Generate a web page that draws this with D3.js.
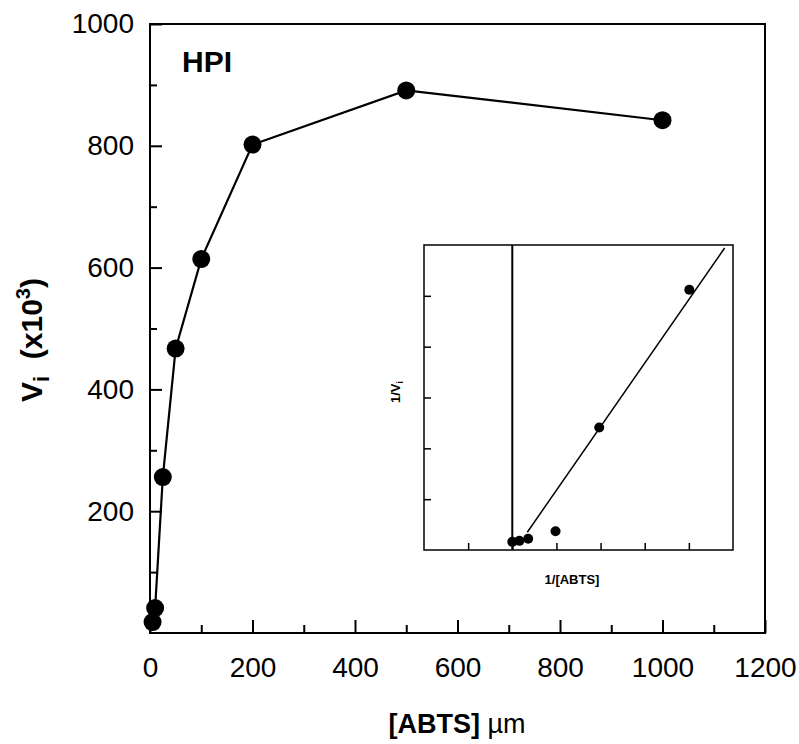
<!DOCTYPE html>
<html>
<head>
<meta charset="utf-8">
<script src="https://cdn.jsdelivr.net/npm/d3@7"></script>
<style>
  body { margin: 0; background: #fff; }
  svg { display: block; font-family: "Liberation Sans", Arial, Helvetica, sans-serif; }
</style>
</head>
<body>
<div id="chart"></div>
<script>
// main plot: rate vs [ABTS]
const abts = [5, 10, 25, 50, 100, 200, 500, 1000];
const rate = [18, 41, 256, 467, 614, 802, 891, 842];
const xTicks = [0, 200, 400, 600, 800, 1000, 1200];
const xMinor = [100, 300, 500, 700, 900, 1100];
const yTicks = [200, 400, 600, 800, 1000];
const yMinor = [100, 300, 500, 700, 900];

// inset: double reciprocal plot
const invS = [0.0, 0.16, 0.36, 0.98, 1.97, 4.01];
const invV = [0.16, 0.18, 0.22, 0.37, 2.41, 5.12];
const fitX = [0.34, 4.81];
const fitY = [0.35, 5.94];
const insetXTicks = [-1, 0, 1, 2, 3, 4];
const insetYTicks = [1, 2, 3, 4, 5];

const width = 799, height = 744;

const svg = d3.select("#chart")
    .append("svg")
    .attr("width", width)
    .attr("height", height);

const x = d3.scaleLinear().domain([0, 1200]).range([150, 765]);
const y = d3.scaleLinear().domain([0, 1000]).range([633, 24]);

// frame
svg.append("rect")
    .attr("x", x(0))
    .attr("y", y(1000))
    .attr("width", x(1200) - x(0))
    .attr("height", y(0) - y(1000))
    .attr("fill", "none")
    .attr("stroke", "black")
    .attr("stroke-width", 2);

// y axis, ticks pointing inward
const yAxis = svg.append("g")
    .attr("transform", `translate(${x(0)},0)`)
    .call(d3.axisLeft(y).tickValues(yTicks).tickSize(-12).tickPadding(16).tickFormat(d3.format("d")));
const yMinorAxis = svg.append("g")
    .attr("transform", `translate(${x(0)},0)`)
    .call(d3.axisLeft(y).tickValues(yMinor).tickSize(-7).tickFormat(""));

const xAxis = svg.append("g")
    .attr("transform", `translate(0,${y(0)})`)
    .call(d3.axisBottom(x).tickValues(xTicks).tickSize(-13).tickPadding(24).tickFormat(d3.format("d")));
const xMinorAxis = svg.append("g")
    .attr("transform", `translate(0,${y(0)})`)
    .call(d3.axisBottom(x).tickValues(xMinor).tickSize(-8).tickFormat(""));

[yAxis, yMinorAxis, xAxis, xMinorAxis].forEach(g => {
    g.select(".domain").remove();
    g.selectAll("line").attr("stroke", "black").attr("stroke-width", 2);
    g.selectAll("text")
        .attr("fill", "black")
        .style("font-size", "28px")
        .style("font-family", "'Liberation Sans', Arial, sans-serif");
});

// axis titles
const yTitle = svg.append("text")
    .attr("transform", "translate(42,340) rotate(-90)")
    .attr("text-anchor", "middle")
    .style("font-size", "30px")
    .style("font-weight", "bold");
yTitle.append("tspan").text("V");
yTitle.append("tspan").attr("dy", 7).style("font-size", "22px").text("i");
yTitle.append("tspan").attr("dy", -7).text("\u00a0\u00a0(x10");
yTitle.append("tspan").attr("dy", -12).style("font-size", "20px").text("3");
yTitle.append("tspan").attr("dy", 12).text(")");

const xTitle = svg.append("text")
    .attr("x", 457)
    .attr("y", 733)
    .attr("text-anchor", "middle")
    .style("font-size", "27px");
xTitle.append("tspan").style("font-weight", "bold").text("[ABTS]");
xTitle.append("tspan").text(" \u00b5m");

svg.append("text")
    .attr("x", 182)
    .attr("y", 72)
    .style("font-size", "30px")
    .style("font-weight", "bold")
    .text("HPI");

// main curve
const mainData = abts.map((d, i) => ({ x: d, y: rate[i] }));
svg.append("path")
    .datum(mainData)
    .attr("fill", "none")
    .attr("stroke", "black")
    .attr("stroke-width", 2.2)
    .attr("d", d3.line().x(d => x(d.x)).y(d => y(d.y)));

svg.selectAll(".pt")
    .data(mainData)
    .enter()
    .append("circle")
    .attr("class", "pt")
    .attr("cx", d => x(d.x))
    .attr("cy", d => y(d.y))
    .attr("r", 9)
    .attr("fill", "black");

// ---- inset ----
const ix = d3.scaleLinear().domain([-2, 5]).range([424, 733]);
const iy = d3.scaleLinear().domain([0, 6]).range([550, 245]);

svg.append("rect")
    .attr("x", ix(-2))
    .attr("y", iy(6))
    .attr("width", ix(5) - ix(-2))
    .attr("height", iy(0) - iy(6))
    .attr("fill", "white")
    .attr("stroke", "black")
    .attr("stroke-width", 1.5);

const ixAxis = svg.append("g")
    .attr("transform", `translate(0,${iy(0)})`)
    .call(d3.axisBottom(ix).tickValues(insetXTicks).tickSize(-7).tickFormat(""));
const iyAxis = svg.append("g")
    .attr("transform", `translate(${ix(-2)},0)`)
    .call(d3.axisLeft(iy).tickValues(insetYTicks).tickSize(-7).tickFormat(""));
[ixAxis, iyAxis].forEach(g => {
    g.select(".domain").remove();
    g.selectAll("line").attr("stroke", "black").attr("stroke-width", 1.5);
});

// zero line of 1/[ABTS]
svg.append("line")
    .attr("x1", ix(0)).attr("x2", ix(0))
    .attr("y1", iy(0)).attr("y2", iy(6))
    .attr("stroke", "black")
    .attr("stroke-width", 2);

const fitData = fitX.map((d, i) => ({ x: d, y: fitY[i] }));
svg.append("path")
    .datum(fitData)
    .attr("fill", "none")
    .attr("stroke", "black")
    .attr("stroke-width", 1.5)
    .attr("d", d3.line().x(d => ix(d.x)).y(d => iy(d.y)));

svg.selectAll(".ipt")
    .data(invS.map((d, i) => ({ x: d, y: invV[i] })))
    .enter()
    .append("circle")
    .attr("class", "ipt")
    .attr("cx", d => ix(d.x))
    .attr("cy", d => iy(d.y))
    .attr("r", 5)
    .attr("fill", "black");

svg.append("text")
    .attr("x", 572)
    .attr("y", 584)
    .attr("text-anchor", "middle")
    .style("font-size", "13px")
    .style("font-weight", "bold")
    .text("1/[ABTS]");

const iyTitle = svg.append("text")
    .attr("transform", "translate(400,392) rotate(-90)")
    .attr("text-anchor", "middle")
    .style("font-size", "13px")
    .style("font-weight", "bold");
iyTitle.append("tspan").text("1/V");
iyTitle.append("tspan").attr("dy", 3).style("font-size", "9px").text("i");
</script>
</body>
</html>
